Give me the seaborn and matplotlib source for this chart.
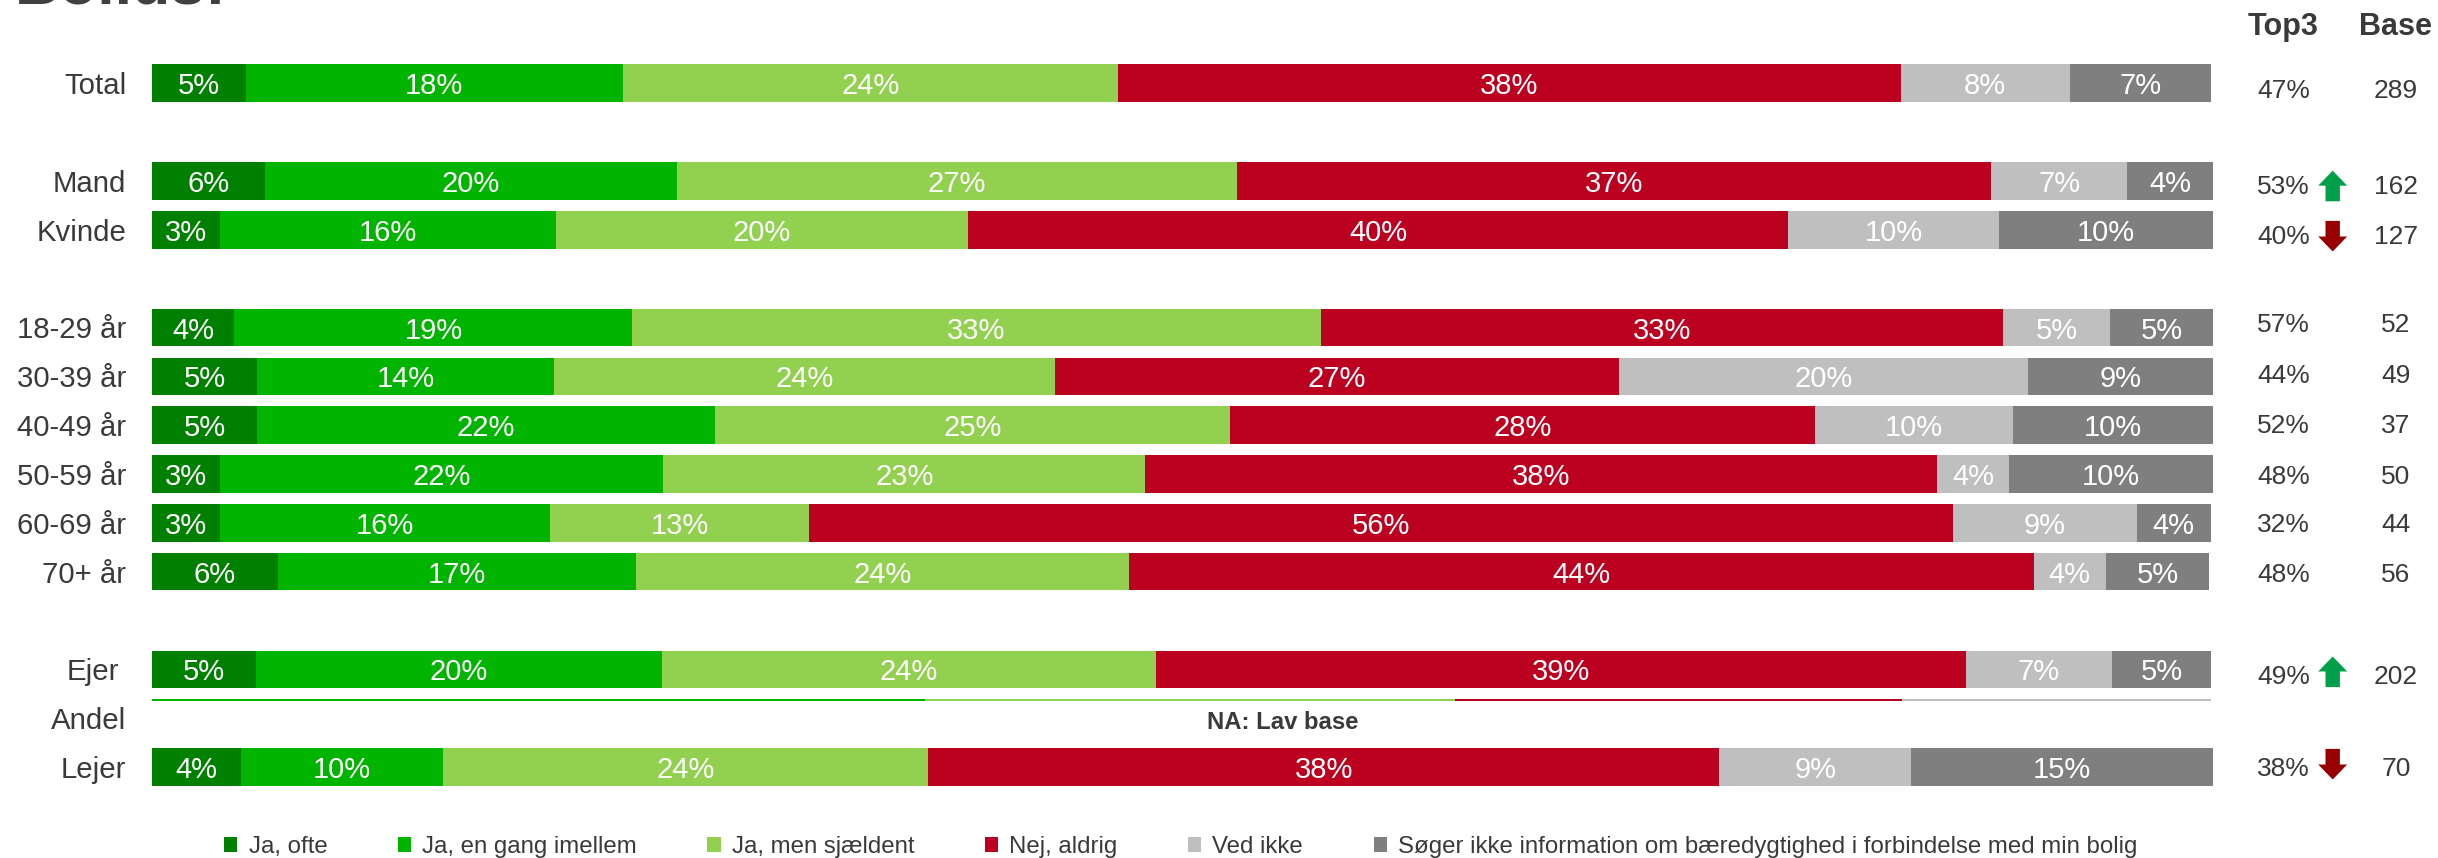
import matplotlib
matplotlib.use("Agg")
import matplotlib.pyplot as plt
from matplotlib.patches import Polygon
from matplotlib.transforms import Affine2D
import numpy as np
import seaborn as sns

# ---- data (percent) ----
row_labels = ["Total", "Mand", "Kvinde", "18-29 år", "30-39 år", "40-49 år", "50-59 år",
              "60-69 år", "70+ år", "Ejer", "Lejer"]
rows = [0, 2, 3, 5, 6, 7, 8, 9, 10, 12, 14]

ja_ofte = [4.55, 5.5, 3.3, 4.0, 5.1, 5.1, 3.3, 3.3, 6.1, 5.05, 4.3]
ja_gang = [18.3, 19.95, 16.3, 19.3, 14.4, 22.2, 21.5, 16.0, 17.4, 19.7, 9.8]
ja_sjaelden = [24.0, 27.2, 20.0, 33.4, 24.3, 25.0, 23.4, 12.6, 23.9, 23.95, 23.55]
nej_aldrig = [38.0, 36.6, 39.8, 33.1, 27.4, 28.4, 38.4, 55.5, 43.9, 39.3, 38.4]
ved_ikke = [8.2, 6.6, 10.2, 5.2, 19.8, 9.6, 3.5, 8.9, 3.5, 7.1, 9.3]
soger_ikke = [6.85, 4.25, 10.4, 5.0, 9.1, 9.7, 10.0, 3.6, 5.0, 4.8, 14.65]

andel_segments = [37.5, 25.7, 21.7, 15.0]   # the low-base row is only a sliver
andel_colors = ["#00B400", "#92D050", "#BC001F", "#BFBFBF"]

top3 = ["47%", "53%", "40%", "57%", "44%", "52%", "48%", "32%", "48%", "49%", "38%"]
base = ["289", "162", "127", "52", "49", "37", "50", "44", "56", "202", "70"]
trend = [0, 1, -1, 0, 0, 0, 0, 0, 0, 1, -1]

series_names = ["Ja, ofte", "Ja, en gang imellem", "Ja, men sjældent", "Nej, aldrig", "Ved ikke",
                "Søger ikke information om bæredygtighed i forbindelse med min bolig"]
series_values = [ja_ofte, ja_gang, ja_sjaelden, nej_aldrig, ved_ikke, soger_ikke]
series_colors = ["#008000", "#00B400", "#92D050", "#BC001F", "#BFBFBF", "#7F7F7F"]

# ---- layout (pixels of the 2438x858 canvas) ----
W, H = 2438, 858
TEXT = "#3A3A3A"
side_text_y = [90.5, 187.2, 237.2, 325, 376.2, 426, 477.3, 525.5, 575.2, 676.5, 768.8]
arrow_mid_y = [None, 186, 236.2, None, None, None, None, None, None, 671.8, 764.2]

sns.set_theme(style="white")
plt.rcParams["font.family"] = ["Liberation Sans", "DejaVu Sans"]

fig = plt.figure(figsize=(W / 100, H / 100), dpi=100)
ax = fig.add_axes([152 / W, 0, 2061 / W, 1])
px = Affine2D().scale(1, -1).translate(0, H)  # top-left pixel coordinates

left = np.zeros(len(rows))
for name, vals, col in zip(series_names, series_values, series_colors):
    sns.barplot(x=vals, y=rows, orient="y", native_scale=True, left=left, width=0.768,
                color=col, saturation=1, errorbar=None, linewidth=0, label=name, ax=ax)
    anns = ax.bar_label(ax.containers[-1], labels=[f"{v:.0f}%" for v in vals], label_type="center",
                        color="white", fontsize=21)
    for ann in anns:
        ann.xyann = (0, -2.2)
    left = left + np.array(vals)

start = 0.0
for val, col in zip(andel_segments, andel_colors):
    sns.barplot(x=[val], y=[12.63], orient="y", native_scale=True, left=start, width=0.045,
                color=col, saturation=1, errorbar=None, linewidth=0, ax=ax)
    start += val

ax.set_xlim(0, 100)
ax.set_ylim(15.86, -1.704)
ax.set_xlabel("")
ax.set_ylabel("")
ax.set_xticks([])
ax.set_yticks(rows + [13], row_labels + ["Andel"])
ax.tick_params(axis="y", length=0, pad=18.6, labelsize=21.2, labelcolor=TEXT)
sns.despine(ax=ax, left=True, bottom=True)
for lab in ax.get_yticklabels():
    if lab.get_text() == "Ejer":
        lab.set_transform(lab.get_transform() + Affine2D().translate(-7, 0))

ax.text(1282.5, 722.5, "NA: Lav base", transform=px, ha="center", va="center",
        fontsize=17.2, fontweight="bold", color=TEXT)

# right-hand columns
ax.text(2283.2, 27, "Top3", transform=px, ha="center", va="center", fontsize=22,
        fontweight="bold", color=TEXT, clip_on=False)
ax.text(2395.5, 27, "Base", transform=px, ha="center", va="center", fontsize=22,
        fontweight="bold", color=TEXT, clip_on=False)
for t, b, y in zip(top3, base, side_text_y):
    ax.text(2283.7, y, t, transform=px, ha="center", va="center", fontsize=19, color=TEXT, clip_on=False)
    ax.text(2396, y, b, transform=px, ha="center", va="center", fontsize=19, color=TEXT, clip_on=False)

for tr, y in zip(trend, arrow_mid_y):
    if tr == 0:
        continue
    cx, hw, sw, hh, half = 2332.7, 14.5, 7.2, 15, 15.3
    pts = np.array([[0, -half], [hw, -half + hh], [sw, -half + hh], [sw, half],
                    [-sw, half], [-sw, -half + hh], [-hw, -half + hh]])
    pts = pts * [1, tr] + [cx, y]
    ax.add_patch(Polygon(pts, closed=True, transform=px, facecolor="#00A04A" if tr > 0 else "#990000",
                         edgecolor="none", clip_on=False))

# clipped title at the very top of the canvas
ax.text(15, 3.5, "Bolius:", transform=px, ha="left", va="baseline", fontsize=45,
        fontweight="bold", color="#404040", clip_on=False)

handles, labels = ax.get_legend_handles_labels()
ax.legend(handles, labels, loc="center left", bbox_to_anchor=(224 / W, 1 - 847 / H),
          bbox_transform=fig.transFigure, ncol=6, frameon=False, fontsize=17.3, labelcolor=TEXT,
          borderpad=0, borderaxespad=0, handlelength=0.55, handleheight=0.55,
          handletextpad=0.47, columnspacing=2.93)

fig.savefig("out.png", dpi=100)
